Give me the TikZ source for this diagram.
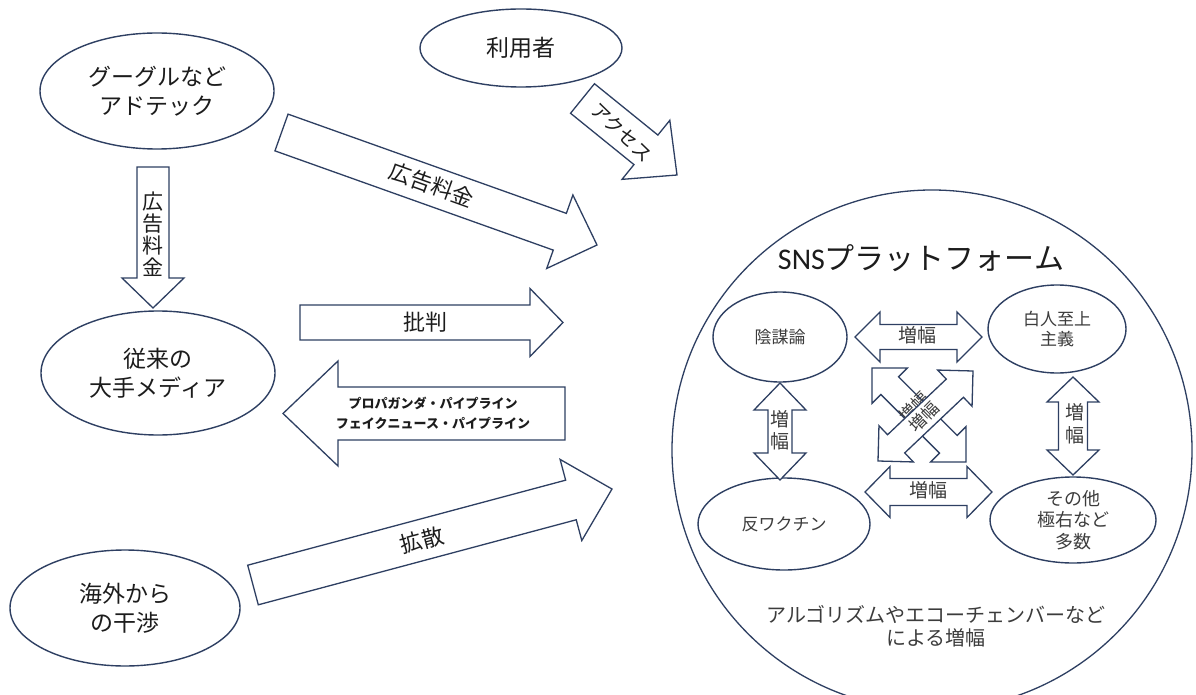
\documentclass[tikz,border=0pt]{standalone}
\usepackage{fontspec}
\setmainfont{Noto Sans CJK JP}
\newfontfamily\snsfont{Carlito}
\usetikzlibrary{calc,shapes.geometric}
\definecolor{navy}{HTML}{2E3F62}
\definecolor{ink}{HTML}{1C1C1C}
\definecolor{grayink}{HTML}{3C3C3C}
\tikzset{
  oval/.style={ellipse, draw=navy, line width=1.4pt, inner sep=0pt, fill=white},
  barrow/.style={draw=navy, line width=1.3pt, fill=white, line join=miter},
  bigtxt/.style={text=ink, align=center, font=\fontsize{23}{29}\selectfont, inner sep=0pt},
  arrtxt/.style={text=ink, align=center, font=\fontsize{22}{22}\selectfont, inner sep=0pt},
  smalltxt/.style={text=grayink, align=center, font=\fontsize{17}{21}\selectfont, inner sep=0pt},
  amptxt/.style={text=grayink, align=center, font=\fontsize{19}{23}\selectfont, inner sep=0pt},
}
% single block arrow: name, start, tip, body half width, head half width, head length
\newcommand{\sarrow}[6]{%
  \coordinate (#1-s) at (#2);
  \coordinate (#1-t) at (#3);
  \coordinate (#1-h) at ($(#1-t)!#6!(#1-s)$);
  \draw[barrow] ($(#1-s)!#4!90:(#1-t)$) -- ($(#1-h)!#4!90:(#1-t)$) -- ($(#1-h)!#5!90:(#1-t)$)
    -- (#1-t) -- ($(#1-h)!#5!-90:(#1-t)$) -- ($(#1-h)!#4!-90:(#1-t)$) -- ($(#1-s)!#4!-90:(#1-t)$) -- cycle;
}
% double block arrow: name, end a, end b, body half width, head half width, head length
\newcommand{\darrow}[6]{%
  \coordinate (#1-a) at (#2);
  \coordinate (#1-b) at (#3);
  \coordinate (#1-ha) at ($(#1-a)!#6!(#1-b)$);
  \coordinate (#1-hb) at ($(#1-b)!#6!(#1-a)$);
  \draw[barrow] (#1-a) -- ($(#1-ha)!#5!90:(#1-b)$) -- ($(#1-ha)!#4!90:(#1-b)$)
    -- ($(#1-hb)!#4!-90:(#1-a)$) -- ($(#1-hb)!#5!-90:(#1-a)$) -- (#1-b)
    -- ($(#1-hb)!#5!90:(#1-a)$) -- ($(#1-hb)!#4!90:(#1-a)$)
    -- ($(#1-ha)!#4!-90:(#1-b)$) -- ($(#1-ha)!#5!-90:(#1-b)$) -- cycle;
}
\begin{document}
\begin{tikzpicture}[x=1pt,y=-1pt]
\clip (0,0) rectangle (1196,695);
\fill[white] (0,0) rectangle (1196,695);

% ---- SNS platform circle ----
\node[circle, draw=navy, line width=1.3pt, minimum size=520pt, inner sep=0pt] (sns) at (932,450) {};
\node[text=ink, font=\fontsize{30}{30}\selectfont, inner sep=0pt] (snstitle) at (921,258) {{\snsfont SNS}プラットフォーム};

% ---- left / top ellipses ----
\node[oval, minimum width=234pt, minimum height=116pt] (google) at (157,91) {};
\node[bigtxt] (googlet) at (google.center) {グーグルなど\\アドテック};
\node[oval, minimum width=202pt, minimum height=78pt] (user) at (521,48) {};
\node[bigtxt] (usert) at (user.center) {利用者};
\node[oval, minimum width=234pt, minimum height=124pt] (media) at (158,373) {};
\node[bigtxt] (mediat) at (media.center) {従来の\\大手メディア};
\node[oval, minimum width=230pt, minimum height=116pt] (foreign) at (125,608) {};
\node[bigtxt] (foreignt) at (foreign.center) {海外から\\の干渉};

% ---- outer block arrows ----
\sarrow{adv}{153,167}{153,308}{16pt}{31pt}{30pt}
\node[arrtxt, font=\fontsize{21}{22}\selectfont] (advt) at (153,234) {広\\告\\料\\金};

\sarrow{adfee}{281.5,132.5}{597,245}{19.5pt}{39pt}{39.5pt}
\node[arrtxt, rotate=-19.7] (adfeet) at (432,185) {広告料金};

\sarrow{access}{582.5,98.5}{677,175}{19pt}{38pt}{40pt}
\node[arrtxt, font=\fontsize{19}{19}\selectfont, rotate=-44] (accesst) at (622,132) {アクセス};

\sarrow{crit}{300,322.5}{563,322.5}{17.5pt}{34pt}{33pt}
\node[arrtxt] (critt) at (425,322) {批判};

\sarrow{prop}{565,413.5}{283,413.5}{26.5pt}{52.5pt}{55pt}
\node[text=ink, align=center, font=\fontsize{13}{20}\selectfont\bfseries, inner sep=0pt] (propt) at (433,413) {プロパガンダ・パイプライン\\フェイクニュース・パイプライン};

\sarrow{spread}{253,585}{612,489}{20.5pt}{42pt}{42.5pt}
\node[arrtxt, rotate=15] (spreadt) at (422,540) {拡散};

% ---- inner ellipses ----
\node[oval, minimum width=134pt, minimum height=90pt] (cons) at (780,337) {};
\node[smalltxt] (const) at (cons.center) {陰謀論};
\node[oval, minimum width=138pt, minimum height=88pt] (white) at (1057,329) {};
\node[smalltxt, font=\fontsize{17}{20}\selectfont] (whitet) at (white.center) {白人至上\\主義};
\node[oval, minimum width=172pt, minimum height=92pt] (antivax) at (784,524) {};
\node[smalltxt] (antivaxt) at (antivax.center) {反ワクチン};
\node[oval, minimum width=166pt, minimum height=86pt] (other) at (1073,520) {};
\node[smalltxt, font=\fontsize{18}{21.5}\selectfont] (othert) at (other.center) {その他\\極右など\\多数};

% ---- inner double arrows ----
\darrow{top}{855,337}{982,337}{12.5pt}{25pt}{25pt}
\node[amptxt] (topt) at (917,335) {増幅};
\darrow{bot}{865,492}{992,492}{13.5pt}{25.5pt}{25pt}
\node[amptxt] (bott) at (928,490) {増幅};
\darrow{lv}{780,383}{780,480}{12pt}{26pt}{27pt}
\node[amptxt, font=\fontsize{19}{22}\selectfont] (lvt) at (780,430) {増\\幅};
\darrow{rv}{1073,377}{1073,475}{14.5pt}{26pt}{25pt}
\node[amptxt, font=\fontsize{19}{23}\selectfont] (rvt) at (1075,424) {増\\幅};

% ---- crossing double arrows ----
\darrow{nwse}{872,368}{966,462}{12.5pt}{25pt}{25pt}
\node[amptxt, font=\fontsize{17}{17}\selectfont, rotate=45] (nwset) at (914,407) {増幅};
\darrow{nesw}{973,371}{878,461}{12.5pt}{25pt}{25pt}
\node[amptxt, font=\fontsize{17}{17}\selectfont, rotate=45] (neswt) at (924,417) {増幅};

% ---- bottom caption ----
\node[text=grayink, align=center, font=\fontsize{20}{23}\selectfont, inner sep=0pt] (caption) at (936,626) {アルゴリズムやエコーチェンバーなど\\による増幅};
\end{tikzpicture}
\end{document}
